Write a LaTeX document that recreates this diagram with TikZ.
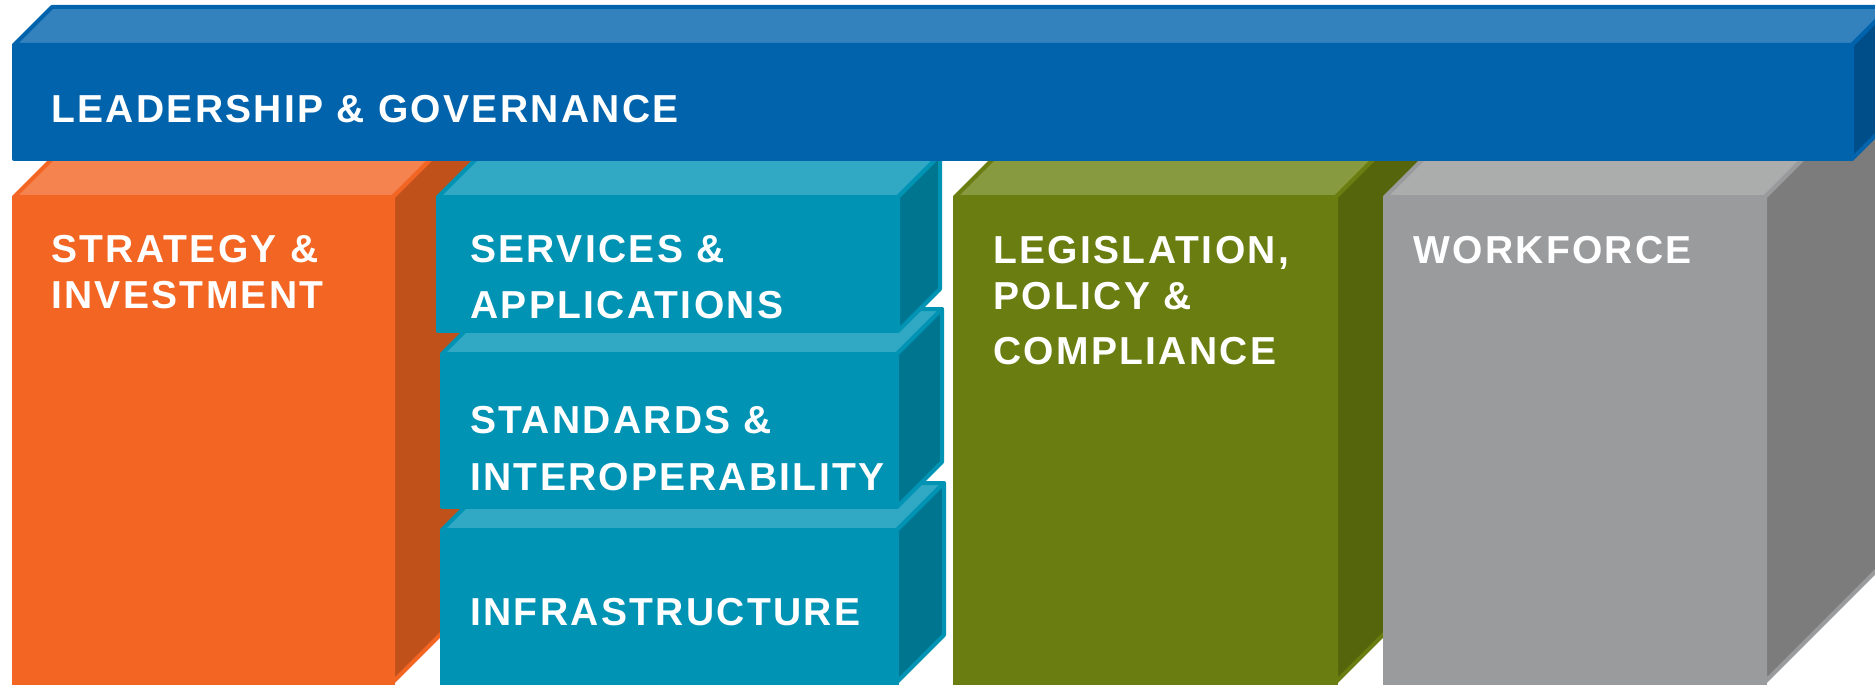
\documentclass[tikz,border=0pt]{standalone}
\usepackage{fontspec}
\setmainfont{Liberation Sans}
\newfontfamily\lblfont{Liberation Sans}[LetterSpace=6.0]
\definecolor{bluef}{HTML}{0063AC}
\definecolor{bluet}{HTML}{3482BD}
\definecolor{blues}{HTML}{004E89}
\definecolor{oranf}{HTML}{F26522}
\definecolor{orant}{HTML}{F4834F}
\definecolor{orans}{HTML}{C1511B}
\definecolor{tealf}{HTML}{0093B4}
\definecolor{tealt}{HTML}{32A9C4}
\definecolor{teals}{HTML}{007590}
\definecolor{grnf}{HTML}{6A7D10}
\definecolor{grnt}{HTML}{889A3F}
\definecolor{grns}{HTML}{54650C}
\definecolor{gryf}{HTML}{9A9B9D}
\definecolor{gryt}{HTML}{ABACAC}
\definecolor{grys}{HTML}{7B7C7B}
% #1 x1, #2 y1 (top), #3 x2, #4 y2 (side bottom), #5 depth, #6 front, #7 top, #8 side, #9 front bottom
\newcommand{\pillarbox}[9]{%
  \filldraw[face, draw=#6, fill=#7] (#1,#2) -- ({#1+#5},{#2-#5}) -- ({#3+#5},{#2-#5}) -- (#3,#2) -- cycle;
  \filldraw[face, draw=#6, fill=#8] (#3,#2) -- ({#3+#5},{#2-#5}) -- ({#3+#5},{#4-#5}) -- (#3,#4) -- cycle;
  \filldraw[face, draw=#6, fill=#6] (#1,#2) rectangle (#3,#9);
}
\tikzset{
  face/.style={line width=4, line join=round},
  lbl/.style={text=white, anchor=base west, inner sep=0pt,
    font=\lblfont\bfseries\fontsize{39}{47}\selectfont}
}
\begin{document}
\begin{tikzpicture}[x=1pt, y=-1pt]
\useasboundingbox (0,0) rectangle (1875,685);
\clip (0,0) rectangle (1875,685);
% lower pillars
\pillarbox{14}{197}{393}{682}{85}{oranf}{orant}{orans}{700}
\pillarbox{442}{530}{897}{682}{47}{tealf}{tealt}{teals}{700}
\pillarbox{442}{354}{897}{507}{45}{tealf}{tealt}{teals}{507}
\pillarbox{438}{197}{898}{331}{42}{tealf}{tealt}{teals}{331}
\pillarbox{955}{197}{1336}{682}{90}{grnf}{grnt}{grns}{700}
\pillarbox{1385}{197}{1765}{682}{115}{gryf}{gryt}{grys}{700}
% top bar
\pillarbox{14}{45}{1852}{159}{38}{bluef}{bluet}{blues}{159}
% labels
\node[lbl] (lead) at (51,122) {LEADERSHIP \& GOVERNANCE};
\node[lbl] (strat1) at (51,262) {STRATEGY \&};
\node[lbl] (strat2) at (51,308) {INVESTMENT};
\node[lbl] (serv1) at (470,262) {SERVICES \&};
\node[lbl] (serv2) at (470,318) {APPLICATIONS};
\node[lbl] (stand1) at (470,433) {STANDARDS \&};
\node[lbl] (stand2) at (470,490) {INTEROPERABILITY};
\node[lbl] (infra) at (470,625) {INFRASTRUCTURE};
\node[lbl] (legis1) at (993,263) {LEGISLATION,};
\node[lbl] (legis2) at (993,309) {POLICY \&};
\node[lbl] (legis3) at (993,364) {COMPLIANCE};
\node[lbl] (work) at (1413,263) {WORKFORCE};
\end{tikzpicture}
\end{document}
